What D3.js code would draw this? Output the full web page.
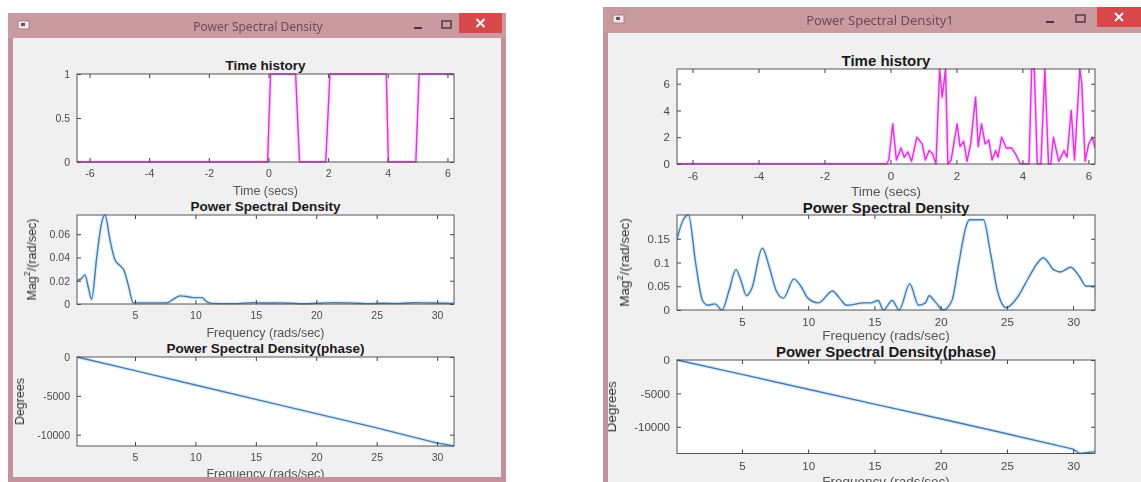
<!DOCTYPE html>
<html>
<head>
<meta charset="utf-8">
<script src="https://cdn.jsdelivr.net/npm/d3@7"></script>
<style>
  html, body { margin: 0; padding: 0; background: #ffffff; }
  svg { display: block; }
  .ax text { font-family: "Liberation Sans", Arial, sans-serif; }
</style>
</head>
<body>
<svg id="chart" width="1141" height="482"></svg>
<script>
// ---------- data ----------
const timeTicks = [-6, -4, -2, 0, 2, 4, 6];
const freqTicks = [5, 10, 15, 20, 25, 30];

// figure 1: rectangular pulse train
const pulseTime  = [-6.42, -0.03, 0.07, 0.91, 1.04, 1.92, 2.06, 3.95, 4.02, 4.94, 5.05, 6.22];
const pulseValue = [0, 0, 1, 1, 0, 0, 1, 1, 0, 0, 1, 1];
const pulseTicks = [0, 0.5, 1];

const psdFreqA = [0.2, 0.58, 0.86, 1.14, 1.41, 1.83, 2.24, 2.52, 2.93, 3.34, 3.76, 4.09, 4.45, 4.86, 5.41,
                  7.62, 8.17, 8.72, 9.28, 9.83, 10.52, 10.93, 11.35, 13.14, 14.8, 15.9, 17.0, 18.66, 21.4,
                  22.8, 24.2, 25.55, 26.9, 28.3, 29.7, 31.4];
const psdMagA  = [0.02, 0.022, 0.025, 0.014, 0.004, 0.04, 0.07, 0.0765, 0.055, 0.038, 0.033, 0.029, 0.016, 0.001, 0.001,
                  0.001, 0.004, 0.007, 0.0065, 0.0055, 0.0055, 0.002, 0.0005, 0.0003, 0.0012, 0.0008, 0.001, 0.0002, 0.0012,
                  0.001, 0.0003, 0.0006, 0.0004, 0.0012, 0.0008, 0.0004];
const psdTicksA = [0, 0.02, 0.04, 0.06];

const phaseFreqA = [0.2, 5, 10, 15, 20, 25, 29.7, 30.3, 31.4];
const phaseDegA  = [0, -1760, -3600, -5450, -7300, -9120, -10970, -11150, -11460];
const phaseTicks = [0, -5000, -10000];

// figure 2: irregular signal
const noiseTime  = [-6.47, -0.12, -0.05, 0.07, 0.18, 0.32, 0.42, 0.53, 0.64, 0.80, 0.96, 1.06, 1.17, 1.27, 1.38,
                    1.49, 1.57, 1.67, 1.74, 1.84, 2.02, 2.11, 2.22, 2.32, 2.43, 2.58, 2.66, 2.76, 2.87, 2.98,
                    3.08, 3.19, 3.26, 3.37, 3.51, 3.67, 3.78, 3.94, 4.20, 4.28, 4.36, 4.45, 4.56, 4.68, 4.79,
                    4.86, 4.94, 5.10, 5.26, 5.35, 5.48, 5.58, 5.74, 5.80, 5.90, 6.01, 6.12, 6.2];
const noiseValue = [0, 0, 0.3, 3.0, 0.3, 1.2, 0.5, 0.9, 0.2, 2.0, 1.5, 0.3, 1.0, 0.8, 0,
                    7.1, 5.0, 7.1, 0, 0.3, 3.0, 1.3, 1.7, 0.2, 1.5, 5.0, 1.3, 3.0, 1.5, 1.8,
                    0.3, 1.0, 0.5, 2.0, 1.2, 1.2, 0.8, 0, 0, 7.1, 7.1, 0, 0, 7.1, 0,
                    0, 2.0, 0.2, 1.0, 0.5, 4.0, 0.3, 7.1, 6.0, 0.2, 1.5, 2.0, 1.2];
const noiseTicks = [0, 2, 4, 6];

const psdFreqB = [0.1, 0.57, 0.97, 1.5, 2.03, 2.43, 2.96, 3.49, 4.02, 4.55, 4.95, 5.35, 5.74, 6.54, 7.07,
                  7.6, 8.13, 8.92, 9.45, 9.98, 10.78, 11.84, 12.37, 12.9, 14.22, 14.75, 15.28, 15.68, 16.34, 16.87,
                  17.67, 18.33, 18.86, 19.13, 19.65, 20.19, 20.85, 21.38, 21.91, 22.17, 23.23, 23.76, 24.29, 24.95,
                  25.75, 26.68, 27.34, 27.74, 28.53, 29.03, 29.82, 30.48, 31.0, 31.65];
const psdMagB  = [0.15, 0.19, 0.2, 0.1, 0.02, 0.01, 0.013, 0, 0.04, 0.085, 0.06, 0.03, 0.045, 0.13, 0.09,
                  0.04, 0.025, 0.065, 0.05, 0.025, 0.015, 0.04, 0.025, 0.01, 0.015, 0.015, 0.02, 0, 0.02, 0,
                  0.055, 0.01, 0.015, 0.03, 0.015, 0, 0.02, 0.1, 0.175, 0.19, 0.19, 0.12, 0.04, 0.005,
                  0.025, 0.07, 0.1, 0.11, 0.085, 0.08, 0.09, 0.07, 0.05, 0.05];
const psdTicksB = [0, 0.05, 0.1, 0.15];

const phaseFreqB = [0.1, 5, 10, 15, 20, 25, 30, 30.5, 31.65];
const phaseDegB  = [0, -2150, -4380, -6600, -8800, -11050, -13350, -14000, -13720];

// ---------- layout ----------
const svg = d3.select("#chart");
const frameCol = "#c4909a";
const barCol = "#c99aa0";
const clientCol = "#f0f0f0";

const windowsSpec = [
  { x: 8, y: 13, w: 498, h: 469, bar: 25, title: "Power Spectral Density", titleX: 258,
    minX: 418, maxX: 446, closeX: 459, closeW: 43, fs: 12 },
  { x: 603, y: 7, w: 545, h: 480, bar: 26, title: "Power Spectral Density1", titleX: 880,
    minX: 1050, maxX: 1080, closeX: 1097, closeW: 44, fs: 13 }
];

// sizes of the figure texts in each window
const smallFonts = { title: 13.5, label: 12.5, tick: 10.5 };
const largeFonts = { title: 15, label: 13.5, tick: 11.5 };

// window backgrounds
windowsSpec.forEach(w => {
  svg.append("rect").attr("x", w.x).attr("y", w.y).attr("width", w.w).attr("height", w.h).attr("fill", frameCol);
  svg.append("rect").attr("x", w.x).attr("y", w.y).attr("width", w.w).attr("height", w.bar).attr("fill", barCol);
  svg.append("rect").attr("x", w.x + 5).attr("y", w.y + w.bar).attr("width", w.w - 10).attr("height", w.h - w.bar - 5)
    .attr("fill", clientCol);
});

const defs = svg.append("defs");
defs.append("filter").attr("id", "soft")
  .attr("x", "-5%").attr("y", "-5%").attr("width", "110%").attr("height", "110%")
  .append("feGaussianBlur").attr("stdDeviation", 0.45);
defs.append("filter").attr("id", "softText")
  .append("feGaussianBlur").attr("stdDeviation", 0.3);

function zip(xs, ys) { return xs.map((x, i) => [x, ys[i]]); }

function panel(cfg) {
  const f = cfg.fonts;
  const g = svg.append("g").attr("class", "ax");
  const x = d3.scaleLinear().domain(cfg.xDomain).range([cfg.left, cfg.right]);
  const y = d3.scaleLinear().domain(cfg.yDomain).range([cfg.bottom, cfg.top]);
  const w = cfg.right - cfg.left, h = cfg.bottom - cfg.top;

  g.append("rect").attr("x", cfg.left).attr("y", cfg.top).attr("width", w).attr("height", h).attr("fill", "#ffffff");

  const clipId = "clip" + cfg.id;
  g.append("clipPath").attr("id", clipId).append("rect")
    .attr("x", cfg.left).attr("y", cfg.top - 1).attr("width", w).attr("height", h + 2);

  const pts = zip(cfg.xs, cfg.ys);
  const line = d3.line().x(d => x(d[0])).y(d => y(d[1])).curve(cfg.curve || d3.curveLinear);
  const lg = g.append("g").attr("clip-path", `url(#${clipId})`);
  lg.append("path").datum(pts).attr("d", line).attr("fill", "none")
    .attr("stroke", cfg.halo).attr("stroke-width", 4).attr("stroke-opacity", 0.35).attr("stroke-linejoin", "round");
  lg.append("path").datum(pts).attr("d", line).attr("fill", "none")
    .attr("stroke", cfg.color).attr("stroke-width", 1.4).attr("stroke-linejoin", "round")
    .attr("filter", "url(#soft)");

  const fmt = d => String(d);
  const tickLen = 4;
  const axB = d3.axisBottom(x).tickValues(cfg.xTicks).tickFormat(fmt).tickSize(-tickLen).tickPadding(8);
  const axT = d3.axisTop(x).tickValues(cfg.xTicks).tickFormat("").tickSize(-tickLen);
  const axL = d3.axisLeft(y).tickValues(cfg.yTicks).tickFormat(fmt).tickSize(-tickLen).tickPadding(7);
  const axR = d3.axisRight(y).tickValues(cfg.yTicks).tickFormat("").tickSize(-tickLen);

  const style = sel => {
    sel.select(".domain").remove();
    sel.selectAll("line").attr("stroke", "#404040").attr("stroke-width", 1);
    sel.selectAll("text").attr("fill", "#4a4a4a").attr("font-size", f.tick).attr("filter", "url(#softText)");
  };
  g.append("g").attr("transform", `translate(0,${cfg.bottom})`).call(axB).call(style);
  g.append("g").attr("transform", `translate(0,${cfg.top})`).call(axT).call(style);
  g.append("g").attr("transform", `translate(${cfg.left},0)`).call(axL).call(style);
  g.append("g").attr("transform", `translate(${cfg.right},0)`).call(axR).call(style);

  g.append("rect").attr("x", cfg.left).attr("y", cfg.top).attr("width", w).attr("height", h)
    .attr("fill", "none").attr("stroke", "#555").attr("stroke-width", 1);

  const cx = (cfg.left + cfg.right) / 2;
  g.append("text").attr("x", cx).attr("y", cfg.top - (cfg.titleGap || 9)).attr("text-anchor", "middle")
    .attr("dominant-baseline", "central").attr("font-size", f.title).attr("font-weight", "bold")
    .attr("fill", "#1a1a1a").text(cfg.title);
  g.append("text").attr("x", cx).attr("y", cfg.bottom + cfg.xLabelDy).attr("text-anchor", "middle")
    .attr("dominant-baseline", "central").attr("font-size", f.label).attr("fill", "#555")
    .attr("filter", "url(#softText)").text(cfg.xLabel);

  if (cfg.yLabel) {
    const t = g.append("text").attr("transform", `translate(${cfg.yLabelX},${(cfg.top + cfg.bottom) / 2}) rotate(-90)`)
      .attr("text-anchor", "middle").attr("dominant-baseline", "central").attr("font-size", f.label)
      .attr("fill", "#333").attr("filter", "url(#softText)");
    if (cfg.yLabel === "mag") {
      t.append("tspan").text("Mag");
      t.append("tspan").attr("font-size", f.label * 0.7).attr("dy", -5).text("2");
      t.append("tspan").attr("dy", 5).text("/(rad/sec)");
    } else {
      t.text(cfg.yLabel);
    }
  }
}

const magenta = "#e030e0", magentaHalo = "#f4a0f4";
const blue = "#3f7db3", blueHalo = "#a8cbe8";

// window 1
panel({ id: "a1", left: 77, right: 454, top: 74, bottom: 162, xDomain: [-6.42, 6.22], yDomain: [0, 1],
  xs: pulseTime, ys: pulseValue, xTicks: timeTicks, yTicks: pulseTicks, color: magenta, halo: magentaHalo,
  title: "Time history", xLabel: "Time (secs)", xLabelDy: 29, fonts: smallFonts });
panel({ id: "a2", left: 77, right: 454, top: 215, bottom: 304, xDomain: [0.2, 31.4], yDomain: [0, 0.0765],
  xs: psdFreqA, ys: psdMagA, xTicks: freqTicks, yTicks: psdTicksA, color: blue, halo: blueHalo,
  curve: d3.curveMonotoneX, title: "Power Spectral Density", xLabel: "Frequency (rads/sec)", xLabelDy: 29,
  yLabel: "mag", yLabelX: 32, fonts: smallFonts });
panel({ id: "a3", left: 77, right: 454, top: 357, bottom: 446, xDomain: [0.2, 31.4], yDomain: [-11460, 0],
  xs: phaseFreqA, ys: phaseDegA, xTicks: freqTicks, yTicks: phaseTicks, color: blue, halo: blueHalo,
  title: "Power Spectral Density(phase)", xLabel: "Frequency (rads/sec)", xLabelDy: 28,
  yLabel: "Degrees", yLabelX: 20, fonts: smallFonts });

// window 2
panel({ id: "b1", left: 677, right: 1095, top: 69, bottom: 164, xDomain: [-6.47, 6.2], yDomain: [0, 7.1],
  xs: noiseTime, ys: noiseValue, xTicks: timeTicks, yTicks: noiseTicks, color: magenta, halo: magentaHalo,
  title: "Time history", xLabel: "Time (secs)", xLabelDy: 27, fonts: largeFonts });
panel({ id: "b2", left: 677, right: 1095, top: 215, bottom: 310, xDomain: [0.1, 31.65], yDomain: [0, 0.2],
  xs: psdFreqB, ys: psdMagB, xTicks: freqTicks, yTicks: psdTicksB, color: blue, halo: blueHalo,
  curve: d3.curveMonotoneX, title: "Power Spectral Density", titleGap: 8, xLabel: "Frequency (rads/sec)", xLabelDy: 25,
  yLabel: "mag", yLabelX: 624, fonts: largeFonts });
panel({ id: "b3", left: 677, right: 1095, top: 360, bottom: 453.5, xDomain: [0.1, 31.65], yDomain: [-14000, 0],
  xs: phaseFreqB, ys: phaseDegB, xTicks: freqTicks, yTicks: phaseTicks, color: blue, halo: blueHalo,
  title: "Power Spectral Density(phase)", xLabel: "Frequency (rads/sec)", xLabelDy: 28,
  yLabel: "Degrees", yLabelX: 611, fonts: largeFonts });

// window frames drawn over the client edges, then title bar decorations
windowsSpec.forEach(w => {
  const fr = svg.append("g");
  fr.append("rect").attr("x", w.x).attr("y", w.y + w.bar).attr("width", 5).attr("height", w.h - w.bar).attr("fill", frameCol);
  fr.append("rect").attr("x", w.x + w.w - 5).attr("y", w.y + w.bar).attr("width", 5).attr("height", w.h - w.bar).attr("fill", frameCol);
  fr.append("rect").attr("x", w.x).attr("y", w.y + w.h - 5).attr("width", w.w).attr("height", 5).attr("fill", frameCol);

  // app icon
  fr.append("rect").attr("x", w.x + 10).attr("y", w.y + 8).attr("width", 11).attr("height", 8)
    .attr("fill", "#efe6e6").attr("stroke", "#9a7a7e").attr("stroke-width", 0.8);
  fr.append("rect").attr("x", w.x + 13).attr("y", w.y + 10).attr("width", 4).attr("height", 3).attr("fill", "#6a5055");

  // title
  fr.append("text").attr("x", w.titleX).attr("y", w.y + 13).attr("text-anchor", "middle")
    .attr("dominant-baseline", "central").attr("font-family", "'Noto Sans', 'Open Sans', sans-serif")
    .attr("font-size", w.fs).attr("fill", "#6e4c52").attr("filter", "url(#softText)").text(w.title);

  // minimise / maximise
  fr.append("rect").attr("x", w.minX - 4).attr("y", w.y + 14).attr("width", 8).attr("height", 2).attr("fill", "#4d3338");
  fr.append("rect").attr("x", w.maxX - 4).attr("y", w.y + 8).attr("width", 9).attr("height", 7)
    .attr("fill", "none").attr("stroke", "#4d3338").attr("stroke-width", 1.4);

  // close
  fr.append("rect").attr("x", w.closeX).attr("y", w.y).attr("width", w.closeW).attr("height", 20).attr("fill", "#d8474a");
  const cx = w.closeX + w.closeW / 2, cy = w.y + 10;
  fr.append("path").attr("d", `M${cx - 4},${cy - 4}L${cx + 4},${cy + 4}M${cx + 4},${cy - 4}L${cx - 4},${cy + 4}`)
    .attr("stroke", "#ffffff").attr("stroke-width", 1.8);
});
</script>
</body>
</html>
